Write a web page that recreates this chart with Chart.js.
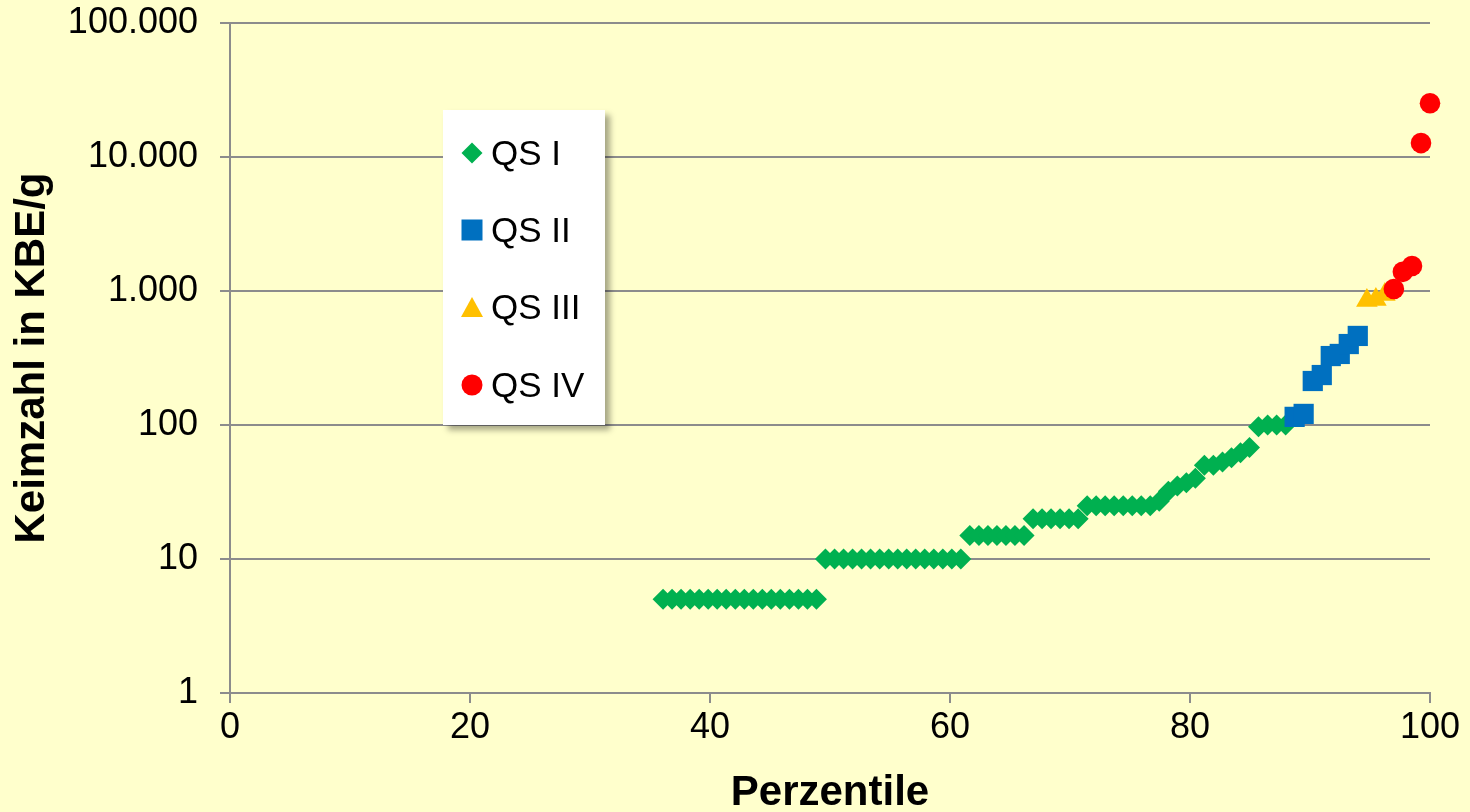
<!DOCTYPE html>
<html>
<head>
<meta charset="utf-8">
<script src="https://cdn.jsdelivr.net/npm/chart.js@4"></script>
<style>
body { margin: 0; background: #FFFFCC; }
#wrap { position: relative; width: 1470px; height: 812px; }
#legend {
    position: absolute; left: 443px; top: 110px; width: 162px; height: 315px;
    background: #ffffff; box-shadow: 5px 5px 6px rgba(0, 0, 0, 0.35);
    font-family: 'Liberation Sans', Arial, sans-serif; font-size: 35px; color: #000;
}
.item { position: absolute; left: 18px; height: 40px; display: flex; align-items: center; white-space: nowrap; }
.item svg { margin-right: 8px; }
</style>
</head>
<body>
<div id="wrap">
    <canvas id="chart" width="1470" height="812"></canvas>
    <div id="legend"></div>
</div>
<script>
// Percentile ranks (x) and germ counts in KBE/g (y) per quality class
const qs1X = [36.09, 36.84, 37.59, 38.35, 39.10, 39.85, 40.60, 41.35, 42.11, 42.86, 43.61, 44.36, 45.11, 45.86, 46.62, 47.37, 48.12, 48.87,
    49.62, 50.38, 51.13, 51.88, 52.63, 53.38, 54.14, 54.89, 55.64, 56.39, 57.14, 57.89, 58.65, 59.40, 60.15, 60.90,
    61.65, 62.41, 63.16, 63.91, 64.66, 65.41, 66.17,
    66.92, 67.67, 68.42, 69.17, 69.92, 70.68,
    71.43, 72.18, 72.93, 73.68, 74.44, 75.19, 75.94, 76.69,
    77.44, 78.20, 78.95, 79.70, 80.45,
    81.20, 81.95,
    82.71, 83.46, 84.21, 84.96,
    85.71, 86.47, 87.22, 87.97];
const qs1Y = [5, 5, 5, 5, 5, 5, 5, 5, 5, 5, 5, 5, 5, 5, 5, 5, 5, 5,
    10, 10, 10, 10, 10, 10, 10, 10, 10, 10, 10, 10, 10, 10, 10, 10,
    15, 15, 15, 15, 15, 15, 15,
    20, 20, 20, 20, 20, 20,
    25, 25, 25, 25, 25, 25, 25, 25,
    27, 32, 35, 37, 40,
    50, 50,
    53, 57, 62, 68,
    97, 100, 100, 100];

const qs2X = [88.72, 89.47, 90.23, 90.98, 91.73, 92.48, 93.23, 93.98];
const qs2Y = [115, 121, 213, 236, 327, 339, 402, 462];

const qs3X = [94.74, 95.49, 96.24];
const qs3Y = [850, 865, 940];

const qs4X = [96.99, 97.74, 98.50, 99.25, 100];
const qs4Y = [1035, 1390, 1537, 12700, 25200];

const seriesNames = ['QS I', 'QS II', 'QS III', 'QS IV'];
const yTicks = [1, 10, 100, 1000, 10000, 100000];
const yTickLabels = ['1', '10', '100', '1.000', '10.000', '100.000'];

const FONT = "'Liberation Sans', Arial, sans-serif";
Chart.defaults.font.family = FONT;
Chart.defaults.color = '#000000';

function toPoints(xs, ys) {
    return xs.map((x, i) => ({ x: x, y: ys[i] }));
}

function makeSet(label, xs, ys, style, color, radius, order) {
    return {
        label: label,
        data: toPoints(xs, ys),
        pointStyle: style,
        backgroundColor: color,
        borderColor: color,
        borderWidth: 0,
        pointRadius: radius,
        pointHoverRadius: radius,
        showLine: false,
        clip: false,
        order: order
    };
}

// keep the plot area fixed: no extra room for overhanging tick labels
function noOverhang(scale) {
    scale.paddingTop = 0;
    scale.paddingBottom = 0;
    scale.paddingLeft = 0;
    scale.paddingRight = 0;
}

const gridColor = '#8c8c8c';

const chart = new Chart(document.getElementById('chart').getContext('2d'), {
    type: 'scatter',
    data: {
        datasets: [
            makeSet(seriesNames[0], qs1X, qs1Y, 'rectRot', '#00B050', 10.5, 4),
            makeSet(seriesNames[1], qs2X, qs2Y, 'rect', '#0070C0', 14.3, 3),
            makeSet(seriesNames[2], qs3X, qs3Y, 'triangle', '#FFC000', 12.5, 2),
            makeSet(seriesNames[3], qs4X, qs4Y, 'circle', '#FF0000', 10.3, 1)
        ]
    },
    options: {
        responsive: false,
        animation: false,
        layout: { padding: { top: 23, right: 40, left: 0, bottom: 0 } },
        plugins: {
            legend: { display: false },
            tooltip: { enabled: false }
        },
        scales: {
            x: {
                type: 'linear',
                min: 0,
                max: 100,
                afterFit: (scale) => { scale.height = 119; noOverhang(scale); },
                ticks: { stepSize: 20, color: '#000', font: { size: 36 }, padding: 3, maxRotation: 0 },
                grid: { drawOnChartArea: false, tickLength: 10, color: gridColor, lineWidth: 2 },
                border: { color: gridColor, width: 2 },
                title: {
                    display: true, text: 'Perzentile', color: '#000',
                    font: { size: 42, weight: 'bold', lineHeight: 1 },
                    padding: { top: 0, bottom: -2 }
                }
            },
            y: {
                type: 'logarithmic',
                min: 1,
                max: 100000,
                afterFit: (scale) => { scale.width = 230; noOverhang(scale); },
                afterBuildTicks: (scale) => { scale.ticks = yTicks.map(v => ({ value: v })); },
                ticks: {
                    color: '#000', font: { size: 36 }, padding: 22,
                    callback: (v, i) => yTickLabels[yTicks.indexOf(v)]
                },
                grid: { color: gridColor, lineWidth: 2, tickLength: 10 },
                border: { color: gridColor, width: 2 },
                title: {
                    display: true, text: 'Keimzahl in KBE/g', color: '#000',
                    font: { size: 42, weight: 'bold' },
                    padding: { top: 7, bottom: 0 }
                }
            }
        }
    }
});

// Legend box drawn as HTML, markers taken from the datasets
function markerSvg(style, color) {
    let shape;
    if (style === 'rectRot') shape = `<polygon points="11,0.5 21.5,11 11,21.5 0.5,11" fill="${color}"/>`;
    else if (style === 'rect') shape = `<rect x="0.5" y="0.5" width="21" height="21" fill="${color}"/>`;
    else if (style === 'triangle') shape = `<polygon points="11,1 22,21 0,21" fill="${color}"/>`;
    else shape = `<circle cx="11" cy="11" r="10.5" fill="${color}"/>`;
    return `<svg width="22" height="22" viewBox="0 0 22 22">${shape}</svg>`;
}

const legendRowsY = [43, 120, 197, 275];
const legendBox = document.getElementById('legend');
chart.data.datasets.forEach((ds, i) => {
    const item = document.createElement('div');
    item.className = 'item';
    item.style.top = (legendRowsY[i] - 20) + 'px';
    item.innerHTML = markerSvg(ds.pointStyle, ds.backgroundColor) + '<span>' + ds.label + '</span>';
    legendBox.appendChild(item);
});
</script>
</body>
</html>
